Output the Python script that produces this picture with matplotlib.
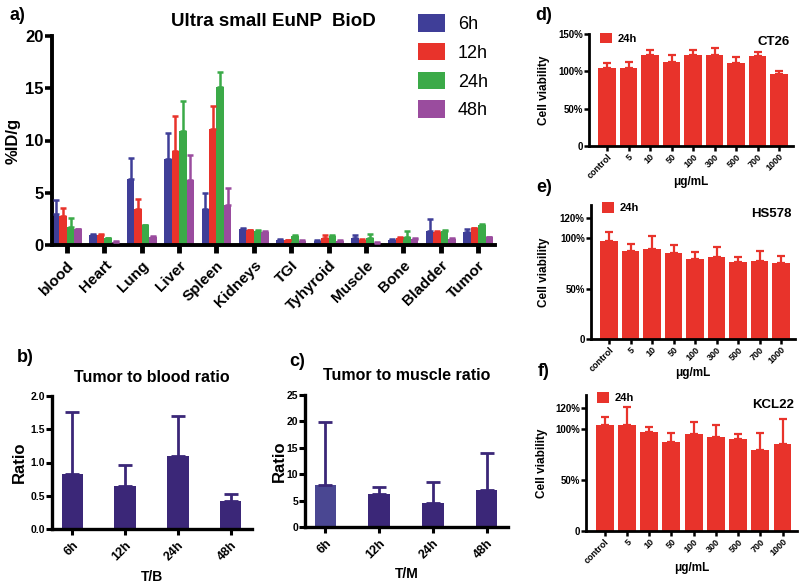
import numpy as np
import matplotlib
matplotlib.use("Agg")
import matplotlib.pyplot as plt
from matplotlib.ticker import FuncFormatter

plt.rcParams['font.family'] = ['Liberation Sans', 'DejaVu Sans']
plt.rcParams['font.weight'] = 'bold'

# ---------------- data ----------------
organs = ['blood', 'Heart', 'Lung', 'Liver', 'Spleen', 'Kidneys', 'TGI',
          'Tyhyroid', 'Muscle', 'Bone', 'Bladder', 'Tumor']
times = ['6h', '12h', '24h', '48h']
mean_6h = [3.0, 1.0, 6.3, 8.2, 3.4, 1.55, 0.5, 0.4, 0.7, 0.5, 1.35, 1.2]
err_6h = [1.35, 0.05, 2.0, 2.5, 1.6, 0.05, 0.05, 0.05, 0.25, 0.05, 1.1, 0.3]
mean_12h = [2.76, 1.0, 3.4, 9.0, 11.1, 1.4, 0.45, 0.7, 0.5, 0.7, 1.25, 1.6]
err_12h = [0.75, 0.05, 1.0, 3.3, 2.2, 0.05, 0.05, 0.25, 0.05, 0.05, 0.05, 0.05]
mean_24h = [1.75, 0.63, 1.9, 10.9, 15.1, 1.35, 0.9, 0.9, 0.65, 0.8, 1.35, 1.9]
err_24h = [0.85, 0.05, 0.05, 2.9, 1.5, 0.05, 0.05, 0.05, 0.45, 0.55, 0.05, 0.15]
mean_48h = [1.5, 0.3, 0.8, 6.2, 3.8, 1.25, 0.4, 0.4, 0.2, 0.6, 0.6, 0.75]
err_48h = [0.05, 0.05, 0.05, 2.4, 1.7, 0.05, 0.05, 0.05, 0.05, 0.05, 0.05, 0.05]

ratio_times = ['6h', '12h', '24h', '48h']
tb_ratio = [0.83, 0.64, 1.10, 0.42]
tb_err = [0.93, 0.325, 0.60, 0.105]
tm_ratio = [8.0, 6.25, 4.5, 7.0]
tm_err = [11.8, 1.35, 4.1, 7.1]

conc = ['control', '5', '10', '50', '100', '300', '500', '700', '1000']
ct26 = [105, 105, 121.5, 112.5, 121.5, 122.5, 110.5, 121, 96]
ct26_err = [6, 8, 7.5, 10, 7, 8.5, 8.5, 4.5, 5]
hs578 = [97.3, 87.4, 89.7, 85.7, 79.7, 81.4, 76.4, 77.4, 75.7]
hs578_err = [9.3, 6.6, 12.3, 7.7, 7.0, 9.6, 5.3, 10.0, 6.3]
kcl22 = [103.3, 103.3, 97.0, 86.6, 95.3, 91.6, 90.0, 79.3, 85.3]
kcl22_err = [8.4, 18.4, 4.7, 9.1, 11.4, 11.7, 5.0, 16.7, 24.7]

# ---------------- style ----------------
c_a = ['#3F3E98', '#E8332B', '#3BAA48', '#9A4C9E']
red = '#E8332B'
indigo = '#3B2778'
indigo_light = '#4A4792'

W, H = 800, 585
fig = plt.figure(figsize=(8, 5.85), dpi=100)


def fx(px):
    return px / W


def fy(py):
    return 1 - py / H


def style(ax, lw=2.2, tlen=4, tw=2.0):
    for s in ['top', 'right']:
        ax.spines[s].set_visible(False)
    for s in ['left', 'bottom']:
        ax.spines[s].set_linewidth(lw)
    ax.tick_params(axis='both', direction='out', length=tlen, width=tw, color='black')


# ---------------- panel a ----------------
ax = fig.add_axes([fx(52), fy(245), fx(495 - 52), (245 - 36) / H])
x = np.arange(len(organs))
means = [mean_6h, mean_12h, mean_24h, mean_48h]
errs = [err_6h, err_12h, err_24h, err_48h]
bw = 0.2
for i, (m, e) in enumerate(zip(means, errs)):
    xi = x + (i - 1.5) * bw
    ax.bar(xi, m, width=bw, color=c_a[i], label=times[i], zorder=2)
    ax.errorbar(xi, m, yerr=[np.zeros(len(m)), e], fmt='none', ecolor=c_a[i],
                elinewidth=1.8, capsize=2.5, capthick=1.8, zorder=3)
ax.set_xlim(-0.4, 11.45)
ax.set_ylim(0, 20)
ax.set_yticks([0, 5, 10, 15, 20])
ax.set_xticks(x)
ax.set_xticklabels(organs, rotation=45, ha='right', rotation_mode='anchor',
                   fontsize=11, fontweight='bold')
for t in ax.get_yticklabels():
    t.set_fontsize(12)
    t.set_fontweight('bold')
style(ax, lw=2.8, tlen=5, tw=2.6)
ax.tick_params(axis='x', length=6, width=3.5)
ax.tick_params(axis='y', pad=1)
ax.set_ylabel('%ID/g', fontsize=12, fontweight='bold')
ax.yaxis.set_label_coords(fx(21), 0.5 * (fy(245) + fy(36)), transform=fig.transFigure)
ax.legend(loc='upper left', bbox_to_anchor=(fx(411), fy(7)), bbox_transform=fig.transFigure,
          frameon=False, prop={'size': 13, 'weight': 'normal'}, handlelength=1.5,
          handleheight=1.1, labelspacing=0.55, handletextpad=0.7, borderaxespad=0)
fig.text(fx(10), fy(15), 'a)', fontsize=13, fontweight='bold', va='center', ha='left')
fig.text(fx(273), fy(22), 'Ultra small EuNP  BioD', fontsize=13.5, fontweight='bold',
         va='center', ha='center')


# ---------------- panels b, c ----------------
def ratio_panel(rect, vals, errs, colors, ylim, yticks, yfmt, xlabel, title,
                title_xy, letter, letter_xy, ylab_x, xlab_y):
    ax = fig.add_axes(rect)
    xx = np.arange(len(ratio_times))
    ax.bar(xx, vals, width=0.4, color=colors, zorder=2)
    ax.errorbar(xx, vals, yerr=[np.zeros(len(vals)), errs], fmt='none', ecolor=indigo,
                elinewidth=2.0, capsize=5, capthick=2.0, zorder=3)
    ax.set_xlim(-0.38, 3.4)
    ax.set_ylim(*ylim)
    ax.set_yticks(yticks)
    ax.yaxis.set_major_formatter(FuncFormatter(yfmt))
    ax.set_xticks(xx)
    ax.set_xticklabels(ratio_times, rotation=45, ha='right', rotation_mode='anchor',
                       fontsize=9, fontweight='bold')
    for t in ax.get_yticklabels():
        t.set_fontsize(7.5)
        t.set_fontweight('bold')
    style(ax, lw=2.4, tlen=4, tw=2.2)
    ax.tick_params(axis='y', pad=1)
    ax.set_ylabel('Ratio', fontsize=12, fontweight='bold')
    ax.yaxis.set_label_coords(fx(ylab_x), rect[1] + rect[3] / 2, transform=fig.transFigure)
    ax.set_xlabel(xlabel, fontsize=10, fontweight='bold')
    ax.xaxis.set_label_coords(rect[0] + rect[2] / 2, fy(xlab_y), transform=fig.transFigure)
    fig.text(fx(title_xy[0]), fy(title_xy[1]), title, fontsize=11.5, fontweight='bold',
             ha='center', va='center')
    fig.text(fx(letter_xy[0]), fy(letter_xy[1]), letter, fontsize=13, fontweight='bold',
             ha='center', va='center')
    return ax


ratio_panel([fx(52), fy(529), fx(252 - 52), (529 - 396) / H], tb_ratio, tb_err,
            [indigo] * 4, (0, 2.0), [0, 0.5, 1.0, 1.5, 2.0], lambda v, p: f'{v:.1f}',
            'T/B', 'Tumor to blood ratio', (152, 377), 'b)', (25, 358), 27, 570)
ratio_panel([fx(305), fy(527), fx(508 - 305), (527 - 395) / H], tm_ratio, tm_err,
            [indigo_light, indigo, indigo, indigo], (0, 25), [0, 5, 10, 15, 20, 25],
            lambda v, p: f'{v:.0f}', 'T/M', 'Tumor to muscle ratio', (407, 376), 'c)',
            (297, 362), 287, 567)


# ---------------- panels d, e, f ----------------
def viab_panel(rect, vals, errs, ylim, yticks, name, letter, letter_y, xlab_y, ylab_x):
    ax = fig.add_axes(rect)
    xx = np.arange(len(conc))
    ax.bar(xx, vals, width=0.8, color=red, label='24h', zorder=2)
    ax.errorbar(xx, vals, yerr=[np.zeros(len(vals)), errs], fmt='none', ecolor=red,
                elinewidth=1.6, capsize=3, capthick=1.6, zorder=3, clip_on=False)
    ax.set_xlim(-0.84, 8.65)
    ax.set_ylim(*ylim)
    ax.set_yticks(yticks)
    ax.yaxis.set_major_formatter(FuncFormatter(lambda v, p: '0' if v == 0 else f'{v:.0f}%'))
    ax.set_xticks(xx)
    ax.set_xticklabels(conc, rotation=45, ha='right', rotation_mode='anchor',
                       fontsize=6.5, fontweight='bold')
    for t in ax.get_yticklabels():
        t.set_fontsize(7)
        t.set_fontweight('bold')
    style(ax, lw=2.0, tlen=3.5, tw=1.8)
    ax.tick_params(axis='y', pad=1)
    ax.tick_params(axis='x', pad=1)
    ax.set_ylabel('Cell viability', fontsize=8.5, fontweight='bold')
    ax.yaxis.set_label_coords(fx(ylab_x), rect[1] + rect[3] / 2, transform=fig.transFigure)
    ax.set_xlabel('μg/mL', fontsize=8.5, fontweight='bold')
    ax.xaxis.set_label_coords(rect[0] + rect[2] / 2, fy(xlab_y), transform=fig.transFigure)
    ax.legend(loc='upper left', bbox_to_anchor=(0.02, 1.07), frameon=False,
              prop={'size': 8, 'weight': 'bold'}, handlelength=1.1, handleheight=1.1,
              handletextpad=0.5, borderaxespad=0.2)
    ax.text(0.985, 0.93, name, transform=ax.transAxes, ha='right', va='center',
            fontsize=9.5, fontweight='bold')
    fig.text(fx(544), fy(letter_y), letter, fontsize=13, fontweight='bold',
             ha='center', va='center')
    return ax


viab_panel([fx(589), fy(146), fx(793 - 589), (146 - 34) / H], ct26, ct26_err,
           (0, 150), [0, 50, 100, 150], 'CT26', 'd)', 15, 176, 550)
viab_panel([fx(591), fy(339), fx(795 - 591), (339 - 205) / H], hs578, hs578_err,
           (0, 133), [0, 50, 100, 120], 'HS578', 'e)', 187, 367, 550)
viab_panel([fx(586), fy(531), fx(797 - 586), (531 - 395) / H], kcl22, kcl22_err,
           (0, 133), [0, 50, 100, 120], 'KCL22', 'f)', 372, 562, 548)

fig.savefig('out.png', dpi=100)
